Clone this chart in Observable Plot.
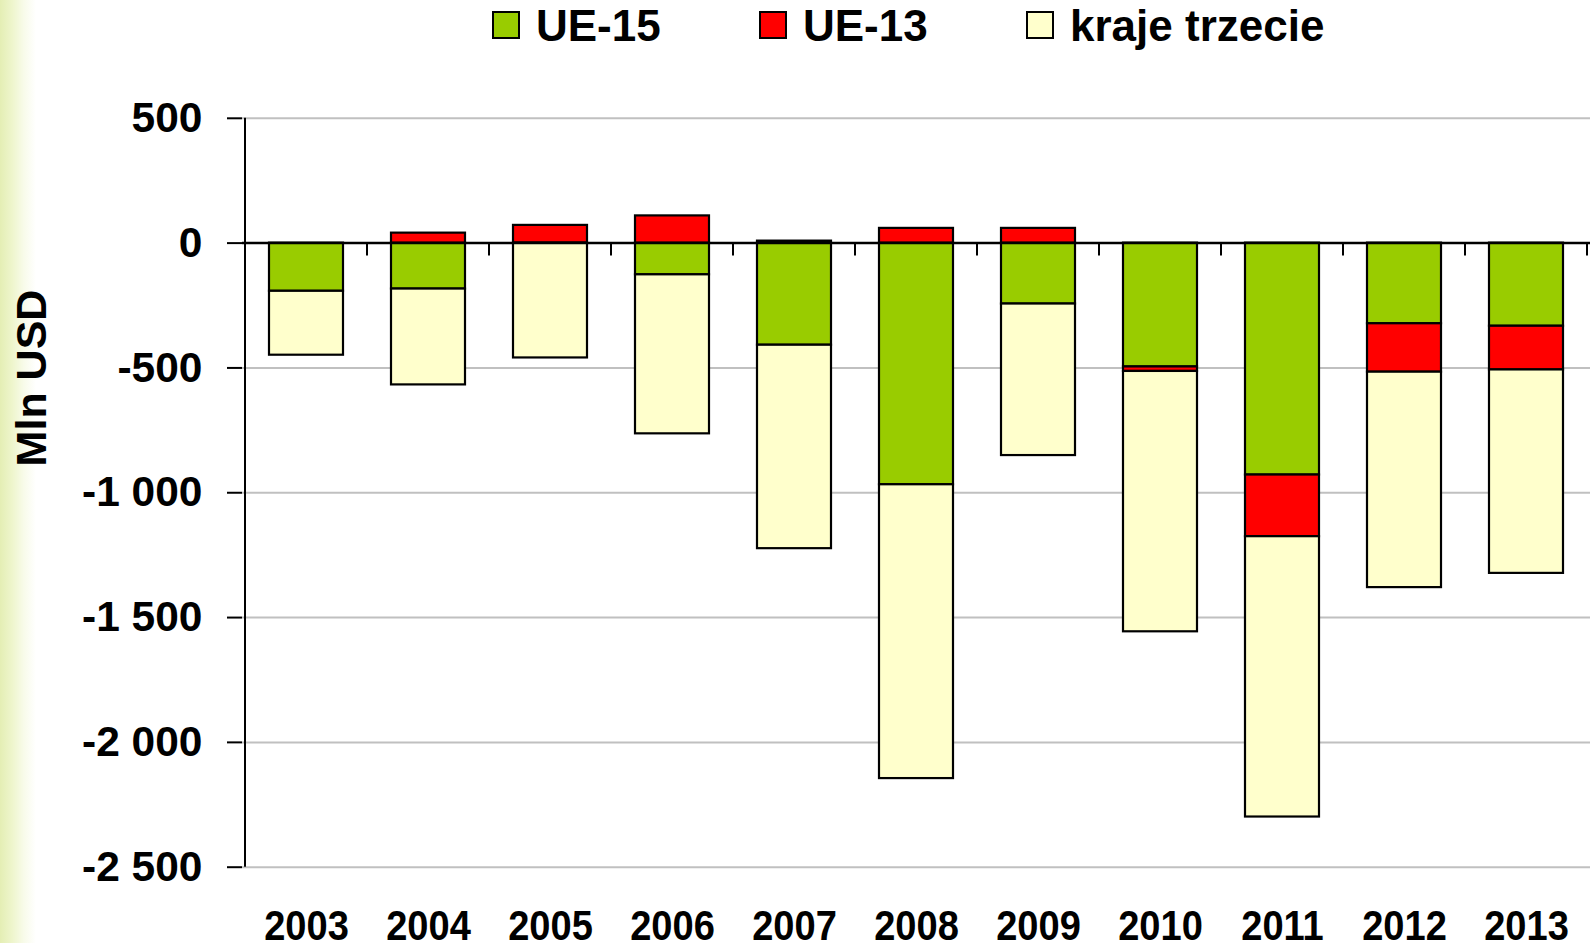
<!DOCTYPE html>
<html>
<head>
<meta charset="utf-8">
<script src="https://cdn.jsdelivr.net/npm/d3@7"></script>
<script src="https://cdn.jsdelivr.net/npm/@observablehq/plot@0.6"></script>
<style>
  html, body { margin: 0; padding: 0; background: #fff; }
  #wrap {
    position: relative; width: 1593px; height: 943px; overflow: hidden;
    background: linear-gradient(to right, #e4eeb4 0px, #eef5cc 12px, #f8fbea 24px, #ffffff 36px);
    font-family: "Liberation Sans", Arial, sans-serif; font-weight: bold;
  }
  #chart { position: absolute; left: 0; top: 0; }
  #overlay { position: absolute; left: 0; top: 0; pointer-events: none; }
</style>
</head>
<body>
<div id="wrap">
  <div id="chart"></div>
  <svg id="overlay" width="1593" height="943"></svg>
</div>
<script>
// ---- data ----
const years = ["2003","2004","2005","2006","2007","2008","2009","2010","2011","2012","2013"];
const seriesNames = ["UE-15", "UE-13", "kraje trzecie"];
const seriesColors = ["#99cc00", "#ff0000", "#ffffcc"];
const ue15  = [-193, -184,    0, -127, -409,  -968, -244,  -496,  -929, -323, -333];
const ue13  = [   0,   40,   71,  109,    8,    59,   59,   -18,  -247, -194, -175];
const kraje = [-256, -384, -460, -637, -815, -1177, -607, -1043, -1123, -863, -815];
const yTicks = [500, 0, -500, -1000, -1500, -2000, -2500];
const yTickLabels = ["500", "0", "-500", "-1 000", "-1 500", "-2 000", "-2 500"];
const yTitle = "Mln USD";

const valuesBySeries = [ue15, ue13, kraje];
const data = years.flatMap((yr, i) =>
  seriesNames.map((s, k) => ({year: yr, series: s, value: valuesBySeries[k][i]}))
);

// category boundary ticks + vertical axis line (custom render mark)
function boundaries(index, scales, values, dimensions) {
  const x = scales.x, y = scales.y;
  const bw = x.bandwidth ? x.bandwidth() : 0;
  const step = x.step ? x.step() : ((dimensions.width - dimensions.marginLeft - dimensions.marginRight) / years.length);
  const g = d3.create("svg:g").attr("stroke", "black").attr("stroke-width", 2);
  const lefts = years.map(yr => x(yr) - (step - bw) / 2);
  lefts.push(lefts[lefts.length - 1] + step);
  g.append("line")
    .attr("x1", lefts[0]).attr("x2", lefts[0])
    .attr("y1", y(d3.max(yTicks))).attr("y2", y(d3.min(yTicks)));
  lefts.slice(1).forEach(px => {
    g.append("line").attr("x1", px).attr("x2", px)
      .attr("y1", y(0)).attr("y2", y(0) + 13);
  });
  return g.node();
}

const chart = Plot.plot({
  width: 1593,
  height: 943,
  marginTop: 117.8,
  marginBottom: 76.3,
  marginLeft: 242,
  marginRight: 3,
  style: {background: "transparent", fontFamily: '"Liberation Sans", Arial, sans-serif', fontWeight: "bold", color: "black"},
  x: {type: "band", domain: years, paddingInner: 0.39, paddingOuter: 0.195, axis: null},
  y: {domain: [d3.min(yTicks), d3.max(yTicks)], axis: null},
  color: {domain: seriesNames, range: seriesColors},
  marks: [
    Plot.ruleY(yTicks.filter(d => d !== 0), {stroke: "#c0c0c0", strokeWidth: 2}),
    Plot.barY(data, {x: "year", y: "value", fill: "series", z: "series", stroke: "black", strokeWidth: 2.2}),
    Plot.ruleY([0], {stroke: "black", strokeWidth: 2.5}),
    boundaries,
    Plot.axisY({
      ticks: yTicks,
      tickFormat: d => yTickLabels[yTicks.indexOf(d)],
      tickSize: 15, tickPadding: 25,
      fontSize: 42.5, fontWeight: "bold",
      stroke: "black", strokeWidth: 2,
      label: null
    }),
    Plot.axisX({
      tickSize: 0, tickPadding: 42.5,
      fontSize: 43, fontWeight: "bold",
      label: null
    })
  ]
});
document.getElementById("chart").appendChild(chart);

// the reference's year labels are horizontally condensed
d3.select(chart).selectAll('g[aria-label="x-axis tick label"] text').each(function () {
  const t = this.getAttribute("transform") || "";
  this.setAttribute("transform", `${t} scale(0.885,1)`);
});

// ---- legend and axis title ----
const ov = d3.select("#overlay");
const legendX = [492, 759, 1026];
seriesNames.forEach((s, k) => {
  const g = ov.append("g").attr("transform", `translate(${legendX[k]},0)`);
  g.append("rect").attr("x", 1).attr("y", 12).attr("width", 26).attr("height", 26)
    .attr("fill", seriesColors[k]).attr("stroke", "black").attr("stroke-width", 2);
  g.append("text").attr("x", 44).attr("y", 40.8)
    .attr("font-family", '"Liberation Sans", Arial, sans-serif')
    .attr("font-weight", "bold").attr("font-size", 44).attr("fill", "black")
    .text(s);
});
ov.append("text")
  .attr("transform", "translate(30.5,378) rotate(-90)")
  .attr("text-anchor", "middle").attr("dominant-baseline", "central")
  .attr("font-family", '"Liberation Sans", Arial, sans-serif')
  .attr("font-weight", "bold").attr("font-size", 43).attr("fill", "black")
  .text(yTitle);
</script>
</body>
</html>
